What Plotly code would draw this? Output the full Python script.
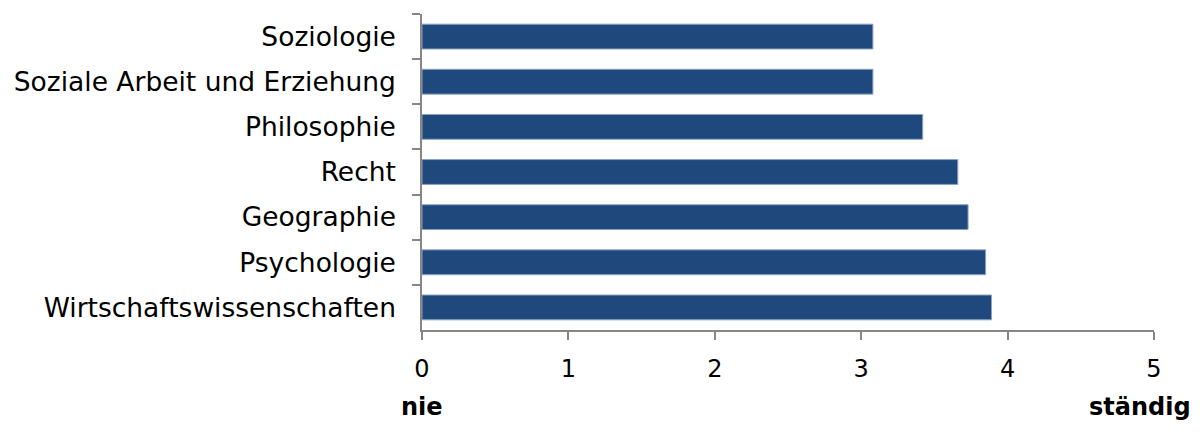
import plotly.graph_objects as go

categories = ["Soziologie", "Soziale Arbeit und Erziehung", "Philosophie", "Recht",
              "Geographie", "Psychologie", "Wirtschaftswissenschaften"]
values = [3.08, 3.08, 3.42, 3.66, 3.73, 3.85, 3.89]
x_ticks = [0, 1, 2, 3, 4, 5]
left_label = "nie"
right_label = "ständig"

FONT = "DejaVu Sans, Verdana, sans-serif"
AXIS_COLOR = "#868686"

fig = go.Figure(go.Bar(
    x=values, y=categories, orientation="h",
    marker=dict(color="#1F497D", line=dict(color="#8DA3C3", width=1)),
))

fig.update_layout(
    width=1200, height=448,
    margin=dict(l=422, r=46, t=14, b=118),
    paper_bgcolor="white", plot_bgcolor="white",
    bargap=0.45,
    showlegend=False,
    font=dict(family=FONT, size=24, color="#000000"),
)
fig.update_xaxes(
    range=[0, 5], tickvals=x_ticks, ticks="outside", ticklen=8, tickcolor=AXIS_COLOR,
    tickwidth=1.5, showline=True, linecolor=AXIS_COLOR, linewidth=1.5, showgrid=False,
    zeroline=False, ticklabelstandoff=8, tickfont=dict(family=FONT, size=24),
)
fig.update_yaxes(
    autorange="reversed", type="category", ticks="outside", tickson="boundaries",
    ticklen=8, tickcolor=AXIS_COLOR, tickwidth=1.5, showline=True, linecolor=AXIS_COLOR,
    linewidth=1.5, showgrid=False, ticklabelstandoff=19, tickfont=dict(family=FONT, size=26.5),
)
fig.add_annotation(text=left_label, x=0, xref="x", y=-0.244, yref="paper", yanchor="middle",
                   xanchor="center", showarrow=False,
                   font=dict(family="DejaVu Sans", size=24, color="#000000", weight="bold"))
fig.add_annotation(text=right_label, x=1.0535, xref="paper", y=-0.244, yref="paper",
                   yanchor="middle", xanchor="right", showarrow=False,
                   font=dict(family="DejaVu Sans", size=24, color="#000000", weight="bold"))

fig.write_html("out.html")
